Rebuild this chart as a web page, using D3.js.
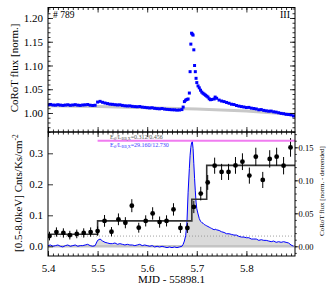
<!DOCTYPE html>
<html>
<head>
<meta charset="utf-8">
<script src="https://cdn.jsdelivr.net/npm/d3@7"></script>
<style>
    body { margin: 0; background: #fff; }
    svg { display: block; }
</style>
</head>
<body>
<div id="chart"></div>
<script>
// CoRoT light curve, time in MJD - 55898.1
var corotTime = [
    5.400, 5.405, 5.410, 5.415, 5.420, 5.425, 5.430, 5.435, 5.440, 5.445,
    5.450, 5.455, 5.460, 5.465, 5.470, 5.475, 5.480, 5.485, 5.490, 5.495,
    5.500, 5.505, 5.510, 5.515, 5.520, 5.525, 5.530, 5.535, 5.540, 5.545,
    5.550, 5.555, 5.560, 5.565, 5.570, 5.575, 5.580, 5.585, 5.590, 5.595,
    5.600, 5.605, 5.610, 5.615, 5.620, 5.625, 5.630, 5.635, 5.640, 5.645,
    5.650, 5.655, 5.660, 5.665, 5.670,
    5.6725, 5.675, 5.6775, 5.680, 5.6825, 5.685, 5.6865, 5.688, 5.6895, 5.691,
    5.6925, 5.694, 5.6955, 5.697, 5.6985, 5.700, 5.7025, 5.705, 5.7075, 5.710,
    5.7125, 5.715, 5.7175, 5.720, 5.7225, 5.725, 5.7275, 5.730,
    5.735, 5.737, 5.740, 5.745, 5.750, 5.755, 5.760, 5.765, 5.770, 5.775,
    5.780, 5.785, 5.790, 5.795, 5.800, 5.805, 5.810, 5.815, 5.820, 5.825,
    5.830, 5.835, 5.840, 5.845, 5.850, 5.855, 5.860, 5.865, 5.870, 5.875,
    5.880, 5.885, 5.890, 5.895
];

// Normalized CoRoT flux (top panel)
var corotFlux = [
    1.0172, 1.0180, 1.0168, 1.0165, 1.0174, 1.0166, 1.0160, 1.0167, 1.0173, 1.0162,
    1.0168, 1.0175, 1.0165, 1.0160, 1.0168, 1.0172, 1.0178, 1.0164, 1.0158, 1.0163,
    1.0230, 1.0245, 1.0225, 1.0210, 1.0198, 1.0186, 1.0182, 1.0175, 1.0170, 1.0172,
    1.0160, 1.0152, 1.0148, 1.0150, 1.0140, 1.0135, 1.0132, 1.0136, 1.0124, 1.0118,
    1.0112, 1.0106, 1.0110, 1.0098, 1.0092, 1.0088, 1.0094, 1.0082, 1.0076, 1.0072,
    1.0068, 1.0066, 1.0060, 1.0063, 1.0072,
    1.0125, 1.0240, 1.0270, 1.0285, 1.0295, 1.0420, 1.0870, 1.1450, 1.1680, 1.1660,
    1.1640, 1.1330, 1.1000, 1.0870, 1.0730, 1.0640, 1.0570, 1.0530, 1.0480, 1.0440,
    1.0415, 1.0395, 1.0375, 1.0355, 1.0335, 1.0300, 1.0280, 1.0285,
    1.0295, 1.0335, 1.0310, 1.0272, 1.0252, 1.0240, 1.0222, 1.0205, 1.0185, 1.0178,
    1.0158, 1.0145, 1.0135, 1.0126, 1.0115, 1.0118, 1.0102, 1.0094, 1.0085, 1.0068,
    1.0072, 1.0055, 1.0046, 1.0038, 1.0040, 1.0025, 1.0018, 1.0005, 0.9992, 0.9985,
    0.9972, 0.9968, 0.9960, 0.9938
];

// Detrended CoRoT flux (bottom panel, right axis)
var corotDetrended = [
    0.001, 0.002, 0.000, 0.001, 0.002, 0.000, -0.001, 0.001, 0.002, 0.000,
    0.001, 0.002, 0.000, 0.001, 0.001, 0.002, 0.003, 0.001, 0.000, 0.001,
    0.009, 0.011, 0.008, 0.006, 0.005, 0.004, 0.004, 0.005, 0.003, 0.004,
    0.003, 0.002, 0.003, 0.002, 0.002, 0.001, 0.002, 0.003, 0.001, 0.002,
    0.001, 0.000, 0.001, -0.001, 0.000, -0.001, 0.000, -0.001, -0.002, -0.001,
    -0.002, -0.001, -0.002, -0.001, 0.000,
    0.003, 0.008, 0.016, 0.034, 0.082, 0.118, 0.138, 0.150, 0.157, 0.159,
    0.148, 0.125, 0.103, 0.084, 0.067, 0.057, 0.049, 0.042, 0.038, 0.036,
    0.035, 0.033, 0.032, 0.031, 0.030, 0.029, 0.028, 0.027,
    0.025, 0.026, 0.025, 0.024, 0.022, 0.021, 0.019, 0.019, 0.018, 0.017,
    0.017, 0.015, 0.014, 0.014, 0.013, 0.013, 0.011, 0.011, 0.011, 0.009,
    0.010, 0.009, 0.009, 0.008, 0.007, 0.008, 0.006, 0.007, 0.006, 0.007,
    0.006, 0.005, 0.002, 0.000
];

// Slow trend of the CoRoT flux
var trendTime = [5.40, 5.50, 5.60, 5.70, 5.80, 5.90];
var trendFlux = [1.0150, 1.0135, 1.0110, 1.0082, 1.0040, 0.9965];

// X-ray count rates [0.5-8.0 keV]
var xrayTime = [
    5.403, 5.417, 5.431, 5.444, 5.458, 5.472, 5.486, 5.500, 5.514, 5.528,
    5.542, 5.556, 5.569, 5.583, 5.597, 5.611, 5.625, 5.639, 5.653, 5.667,
    5.681, 5.694, 5.708, 5.722, 5.736, 5.750, 5.764, 5.778, 5.792, 5.806,
    5.819, 5.833, 5.847, 5.861, 5.875, 5.889
];
var xrayRate = [
    0.033, 0.046, 0.043, 0.036, 0.040, 0.043, 0.046, 0.049, 0.082, 0.047,
    0.087, 0.076, 0.131, 0.060, 0.082, 0.106, 0.078, 0.082, 0.119, 0.059,
    0.059, 0.127, 0.170, 0.206, 0.260, 0.240, 0.240, 0.261, 0.273, 0.228,
    0.289, 0.214, 0.282, 0.289, 0.260, 0.319
];
var xrayErr = [
    0.014, 0.015, 0.015, 0.014, 0.014, 0.015, 0.015, 0.015, 0.019, 0.015,
    0.019, 0.018, 0.021, 0.016, 0.018, 0.020, 0.018, 0.018, 0.020, 0.016,
    0.016, 0.020, 0.022, 0.024, 0.026, 0.026, 0.026, 0.027, 0.027, 0.026,
    0.029, 0.026, 0.028, 0.029, 0.028, 0.030
];

// Bayesian blocks of the X-ray rate
var blockEdges = [5.40, 5.50, 5.69, 5.72, 5.898];
var blockRates = [0.039, 0.082, 0.152, 0.261];
var bkgRate = 0.033;
var peakLevel = 0.160;

// Tick values
var xTicks = [5.4, 5.5, 5.6, 5.7, 5.8];
var fluxTicks = [1.00, 1.05, 1.10, 1.15, 1.20];
var rateTicks = [0.0, 0.1, 0.2, 0.3];
var detTicks = [0.00, 0.05, 0.10, 0.15];

// Layout
var width = 327, height = 291,
    left = 48, right = 295,
    top1 = 7.5, mid = 132, bottom = 256,
    serif = '"Liberation Serif", "Times New Roman", serif';

var svg = d3.select('#chart')
    .append('svg')
    .attr('width', width)
    .attr('height', height);

// Scales
var x = d3.scaleLinear().domain([5.4, 5.898]).range([left, right]);
var yFlux = d3.scaleLinear().domain([0.96, 1.2221]).range([mid, top1]);
var yRate = d3.scaleLinear().domain([-0.0313, 0.3687]).range([bottom, mid]);
var yDet = d3.scaleLinear().domain([-0.0147, 0.1732]).range([bottom, mid]);

// Minor tick positions
var xMinor = d3.range(540, 590).map(d => d / 100);
var fluxMinor = d3.range(96, 123).map(d => d / 100);
var detMinor = d3.range(-1, 18).map(d => d / 100);

// Clip paths for both panels
var defs = svg.append('defs');
defs.append('clipPath').attr('id', 'clipTop')
    .append('rect').attr('x', left).attr('y', top1).attr('width', right - left).attr('height', mid - top1);
defs.append('clipPath').attr('id', 'clipBot')
    .append('rect').attr('x', left).attr('y', mid).attr('width', right - left).attr('height', bottom - mid);

// Draw one axis, drop the domain line
function addAxis(axisFn, scale, ticks, size, transform, format, padding, fontSize) {
    var axis = axisFn(scale)
        .tickValues(ticks)
        .tickSizeInner(size)
        .tickSizeOuter(0)
        .tickPadding(padding === undefined ? 3 : padding)
        .tickFormat(format || '');
    var g = svg.append('g')
        .attr('transform', transform)
        .call(axis);
    // d3 sets its own font on the group, so override afterwards
    g.attr('font-family', serif)
        .attr('font-size', fontSize || 11);
    g.select('.domain').remove();
    g.selectAll('.tick line').attr('stroke', '#000').attr('stroke-width', 0.8);
    g.selectAll('.tick text').attr('fill', '#000');
    return g;
}

// ---------- Top panel ----------
var topG = svg.append('g').attr('clip-path', 'url(#clipTop)');

// Trend line
topG.append('path')
    .datum(trendTime.map((t, i) => [t, trendFlux[i]]))
    .attr('d', d3.line().x(d => x(d[0])).y(d => yFlux(d[1])))
    .style('fill', 'none')
    .style('stroke', '#c8c8c8')
    .style('stroke-width', 3);

// CoRoT points
topG.selectAll('rect.flux')
    .data(corotTime.map((t, i) => [t, corotFlux[i]]))
    .enter()
    .append('rect')
    .attr('class', 'flux')
    .attr('x', d => x(d[0]) - 1.5)
    .attr('y', d => yFlux(d[1]) - 1.5)
    .attr('width', 3)
    .attr('height', 3)
    .style('fill', '#0000ff');

// Top panel axes
addAxis(d3.axisLeft, yFlux, fluxMinor, -2.5, 'translate(' + left + ',0)');
addAxis(d3.axisLeft, yFlux, fluxTicks, -5, 'translate(' + left + ',0)', d3.format('.2f'), 5);
addAxis(d3.axisRight, yFlux, fluxMinor, -2.5, 'translate(' + right + ',0)');
addAxis(d3.axisRight, yFlux, fluxTicks, -5, 'translate(' + right + ',0)');
addAxis(d3.axisTop, x, xMinor, -2.5, 'translate(0,' + top1 + ')');
addAxis(d3.axisTop, x, xTicks, -5, 'translate(0,' + top1 + ')');
addAxis(d3.axisBottom, x, xMinor, -2.5, 'translate(0,' + mid + ')');
addAxis(d3.axisBottom, x, xTicks, -5, 'translate(0,' + mid + ')');

svg.append('rect')
    .attr('x', left).attr('y', top1)
    .attr('width', right - left).attr('height', mid - top1)
    .style('fill', 'none').style('stroke', '#000').style('stroke-width', 1);

svg.append('text')
    .attr('x', 53).attr('y', 18)
    .attr('font-family', serif).attr('font-size', 9.5)
    .text('# 789');

svg.append('text')
    .attr('x', 290).attr('y', 18)
    .attr('text-anchor', 'end')
    .attr('font-family', serif).attr('font-size', 10)
    .text('III');

svg.append('text')
    .attr('transform', 'translate(18,' + 68 + ') rotate(-90)')
    .attr('text-anchor', 'middle')
    .attr('font-family', serif).attr('font-size', 11)
    .text('CoRoT flux [norm.]');

// ---------- Bottom panel ----------
var botG = svg.append('g').attr('clip-path', 'url(#clipBot)');

var detData = corotTime.map((t, i) => [t, corotDetrended[i]]);

// Gray fill under detrended flux
botG.append('path')
    .datum(detData)
    .attr('d', d3.area().x(d => x(d[0])).y0(yDet(0)).y1(d => yDet(d[1])))
    .style('fill', '#dadada');

// Zero level
botG.append('line')
    .attr('x1', left).attr('x2', right)
    .attr('y1', yDet(0)).attr('y2', yDet(0))
    .style('stroke', '#c4c4c4')
    .style('stroke-width', 2.5);

// Background rate (dotted)
botG.append('line')
    .attr('x1', left).attr('x2', right)
    .attr('y1', yRate(bkgRate)).attr('y2', yRate(bkgRate))
    .style('stroke', '#888')
    .style('stroke-width', 0.8)
    .style('stroke-dasharray', '1,2');

// Detrended CoRoT line
botG.append('path')
    .datum(detData)
    .attr('d', d3.line().x(d => x(d[0])).y(d => yDet(d[1])))
    .style('fill', 'none')
    .style('stroke', '#0000ff')
    .style('stroke-width', 1);

// Bayesian blocks
var blockPts = blockRates.map((r, i) => [blockEdges[i], r]);
blockPts.push([blockEdges[blockEdges.length - 1], blockRates[blockRates.length - 1]]);
botG.append('path')
    .datum(blockPts)
    .attr('d', d3.line().x(d => x(d[0])).y(d => yRate(d[1])).curve(d3.curveStepAfter))
    .style('fill', 'none')
    .style('stroke', '#333')
    .style('stroke-width', 1.6);

// X-ray error bars and points
var xrayData = xrayTime.map((t, i) => ({ t: t, r: xrayRate[i], e: xrayErr[i] }));
botG.selectAll('line.err')
    .data(xrayData)
    .enter()
    .append('line')
    .attr('class', 'err')
    .attr('x1', d => x(d.t)).attr('x2', d => x(d.t))
    .attr('y1', d => yRate(d.r - d.e)).attr('y2', d => yRate(d.r + d.e))
    .style('stroke', '#000')
    .style('stroke-width', 1);
botG.selectAll('circle.rate')
    .data(xrayData)
    .enter()
    .append('circle')
    .attr('class', 'rate')
    .attr('cx', d => x(d.t))
    .attr('cy', d => yRate(d.r))
    .attr('r', 2.4)
    .style('fill', '#000');

// Peak level line
botG.append('line')
    .attr('x1', x(5.5)).attr('x2', right)
    .attr('y1', yDet(peakLevel)).attr('y2', yDet(peakLevel))
    .style('stroke', '#f07cf0')
    .style('stroke-width', 2);

// Energy ratio labels
function ratioText(y, color, value) {
    var t = svg.append('text')
        .attr('x', 110).attr('y', y)
        .attr('font-family', serif).attr('font-size', 6)
        .attr('fill', color);
    t.append('tspan').text('E');
    t.append('tspan').attr('font-size', 4).attr('dy', 1).text('fl');
    t.append('tspan').attr('dy', -1).text('/L');
    t.append('tspan').attr('font-size', 4).attr('dy', 1).text('BB,X');
    t.append('tspan').attr('dy', -1).text('=' + value);
}
ratioText(138.5, '#555', '0.312/0.456');
ratioText(146.5, '#3a3aff', '29.160/12.730');

// Bottom panel axes
addAxis(d3.axisLeft, yRate, rateTicks, -5, 'translate(' + left + ',0)', d3.format('.1f'), 5);
addAxis(d3.axisRight, yDet, detMinor, 1.8, 'translate(' + right + ',0)');
addAxis(d3.axisRight, yDet, detTicks, 3.5, 'translate(' + right + ',0)', d3.format('.2f'), 0, 8.5);
addAxis(d3.axisTop, x, xMinor, -2.5, 'translate(0,' + mid + ')');
addAxis(d3.axisTop, x, xTicks, -5, 'translate(0,' + mid + ')');
addAxis(d3.axisBottom, x, xMinor, -2.5, 'translate(0,' + bottom + ')');
addAxis(d3.axisBottom, x, xTicks, -5, 'translate(0,' + bottom + ')', d3.format('.1f'), 8);

svg.append('rect')
    .attr('x', left).attr('y', mid)
    .attr('width', right - left).attr('height', bottom - mid)
    .style('fill', 'none').style('stroke', '#000').style('stroke-width', 1);

// Axis titles
var rateLabel = svg.append('text')
    .attr('transform', 'translate(22,' + 193 + ') rotate(-90)')
    .attr('text-anchor', 'middle')
    .attr('font-family', serif).attr('font-size', 11);
rateLabel.append('tspan').text('[0.5-8.0keV] Cnts/Ks/cm');
rateLabel.append('tspan').attr('font-size', 7.5).attr('dy', -4).text('-2');

svg.append('text')
    .attr('transform', 'translate(324,' + 191 + ') rotate(-90)')
    .attr('text-anchor', 'middle')
    .attr('font-family', serif).attr('font-size', 7)
    .text('CoRoT flux [norm. - detrended]');

svg.append('text')
    .attr('x', (left + right) / 2).attr('y', 283)
    .attr('text-anchor', 'middle')
    .attr('font-family', serif).attr('font-size', 11)
    .text('MJD - 55898.1');
</script>
</body>
</html>
